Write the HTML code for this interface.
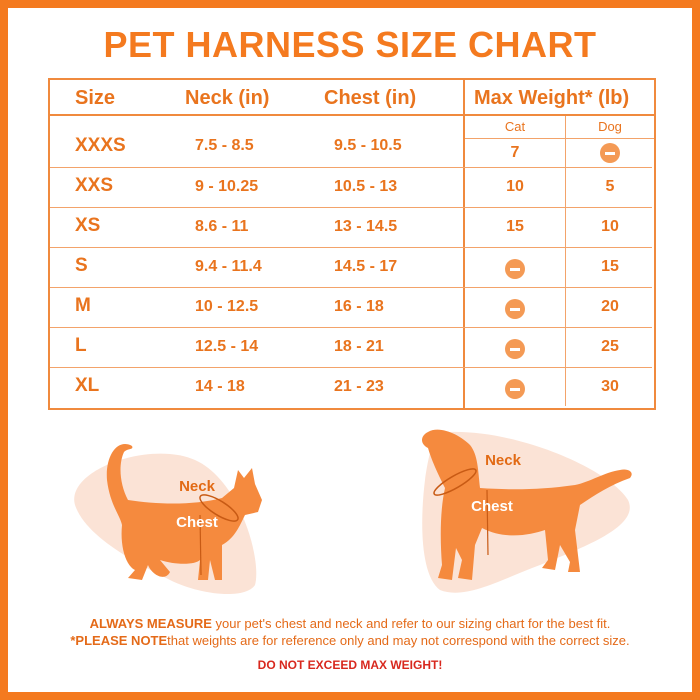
<!DOCTYPE html>
<html><head><style>
body{margin:0;width:700px;height:700px;overflow:hidden;background:#fff;font-family:"Liberation Sans",sans-serif}
#f{position:absolute;left:0;top:0;width:684px;height:684px;border:8px solid #f47a1f;}
.t{position:absolute;color:#e9741e;font-weight:bold;white-space:nowrap}
.h{font-size:20px}
.s{font-size:19px;font-weight:900}
.n{font-size:16px}
.c{text-align:center;width:60px}
.l{position:absolute;background:#f3a36a}
.m{position:absolute;width:20px;height:20px;border-radius:50%;background:#f49a55}
.m:after{content:"";position:absolute;left:5px;top:8.5px;width:10px;height:3px;background:#fff}
</style></head><body>
<div id="f"></div>
<div class="t" style="left:0;width:700px;text-align:center;top:24px;font-size:36px;font-weight:900;color:#f47a1f;letter-spacing:0.5px">PET HARNESS SIZE CHART</div>
<div style="position:absolute;left:48px;top:78px;width:604px;height:328px;border:2px solid #f08a3e"></div>
<div class="l" style="left:48px;top:114px;width:606px;height:2px;background:#f08a3e"></div>
<div class="l" style="left:463px;top:78px;width:2px;height:330px;background:#f08a3e"></div>
<div class="l" style="left:565px;top:116px;width:1px;height:290px"></div>
<div class="l" style="left:465px;top:138px;width:189px;height:1px"></div>
<div class="l" style="left:50px;top:167px;width:602px;height:1px"></div>
<div class="l" style="left:50px;top:207px;width:602px;height:1px"></div>
<div class="l" style="left:50px;top:247px;width:602px;height:1px"></div>
<div class="l" style="left:50px;top:287px;width:602px;height:1px"></div>
<div class="l" style="left:50px;top:327px;width:602px;height:1px"></div>
<div class="l" style="left:50px;top:367px;width:602px;height:1px"></div>
<div class="t h" style="left:75px;top:87px">Size</div>
<div class="t h" style="left:185px;top:87px">Neck (in)</div>
<div class="t h" style="left:324px;top:87px">Chest (in)</div>
<div class="t h" style="left:474px;top:87px">Max Weight* (lb)</div>
<div class="t" style="left:485px;top:119px;width:60px;text-align:center;font-size:13px;font-weight:normal">Cat</div>
<div class="t" style="left:580px;top:119px;width:60px;text-align:center;font-size:13px;font-weight:normal">Dog</div>

<div class="t s" style="left:75px;top:135px">XXXS</div><div class="t n" style="left:195px;top:137px">7.5 - 8.5</div><div class="t n" style="left:334px;top:137px">9.5 - 10.5</div><div class="t n c" style="left:485px;top:144px">7</div><div class="m" style="left:600px;top:143px"></div>
<div class="t s" style="left:75px;top:175px">XXS</div><div class="t n" style="left:195px;top:178px">9 - 10.25</div><div class="t n" style="left:334px;top:178px">10.5 - 13</div><div class="t n c" style="left:485px;top:178px">10</div><div class="t n c" style="left:580px;top:178px">5</div>
<div class="t s" style="left:75px;top:215px">XS</div><div class="t n" style="left:195px;top:218px">8.6 - 11</div><div class="t n" style="left:334px;top:218px">13 - 14.5</div><div class="t n c" style="left:485px;top:218px">15</div><div class="t n c" style="left:580px;top:218px">10</div>
<div class="t s" style="left:75px;top:255px">S</div><div class="t n" style="left:195px;top:258px">9.4 - 11.4</div><div class="t n" style="left:334px;top:258px">14.5 - 17</div><div class="m" style="left:505px;top:259px"></div><div class="t n c" style="left:580px;top:258px">15</div>
<div class="t s" style="left:75px;top:295px">M</div><div class="t n" style="left:195px;top:298px">10 - 12.5</div><div class="t n" style="left:334px;top:298px">16 - 18</div><div class="m" style="left:505px;top:299px"></div><div class="t n c" style="left:580px;top:298px">20</div>
<div class="t s" style="left:75px;top:335px">L</div><div class="t n" style="left:195px;top:338px">12.5 - 14</div><div class="t n" style="left:334px;top:338px">18 - 21</div><div class="m" style="left:505px;top:339px"></div><div class="t n c" style="left:580px;top:338px">25</div>
<div class="t s" style="left:75px;top:375px">XL</div><div class="t n" style="left:195px;top:378px">14 - 18</div><div class="t n" style="left:334px;top:378px">21 - 23</div><div class="m" style="left:505px;top:379px"></div><div class="t n c" style="left:580px;top:378px">30</div>

<svg style="position:absolute;left:0;top:0" width="700" height="700">
<path d="M75,505 C65,470 150,440 195,460 C240,480 262,560 255,585 C245,600 200,595 170,580 C130,560 85,535 75,505Z" fill="#fbe3d6"/>
<path d="M450,432 C520,430 610,470 628,500 C640,525 590,545 540,565 C500,580 465,600 440,590 C420,575 420,520 425,480 C430,445 435,433 450,432Z" fill="#fbe3d6"/>
<path d="M132,446 C118,438 105,455 107,480 C110,505 120,515 122,525 C120,545 125,565 135,570 L128,578 L142,580 L148,565 C152,575 165,582 170,572 L160,560 C175,565 195,565 200,560 L198,580 L208,580 L210,560 L215,580 L222,580 L222,545 C235,538 240,525 245,515 L258,512 L262,500 L255,484 L252,468 L244,478 L238,470 L234,488 L222,498 C195,505 160,505 128,500 C120,485 118,465 124,452 C128,448 134,450 132,446Z" fill="#f58a3e"/>
<path d="M428,432 C420,436 420,444 428,448 C432,462 440,478 445,488 C440,510 440,540 442,565 L438,578 L452,580 L456,548 L462,560 L458,578 L472,580 L475,545 L482,528 C505,540 530,535 545,530 L548,560 L542,568 L555,570 L560,545 L570,562 L568,572 L580,572 L575,530 L580,505 C595,495 610,485 630,478 C635,472 628,468 620,470 C605,472 590,482 575,485 C540,490 510,490 480,488 C478,470 478,455 470,445 C460,435 440,425 428,432Z" fill="#f58a3e"/>
<ellipse cx="219" cy="508" rx="22" ry="7" transform="rotate(32 219 508)" fill="none" stroke="#c85a14" stroke-width="1.5"/>
<ellipse cx="455" cy="482" rx="24" ry="6" transform="rotate(-30 455 482)" fill="none" stroke="#c85a14" stroke-width="1.5"/>
<line x1="200" y1="515" x2="201" y2="575" stroke="#c85a14" stroke-width="1.2"/>
<line x1="487" y1="490" x2="488" y2="555" stroke="#c85a14" stroke-width="1.2"/>
<text x="197" y="491" font-family="Liberation Sans" font-weight="bold" font-size="15" fill="#e26a14" text-anchor="middle">Neck</text>
<text x="197" y="527" font-family="Liberation Sans" font-weight="bold" font-size="15" fill="#fff" text-anchor="middle">Chest</text>
<text x="503" y="465" font-family="Liberation Sans" font-weight="bold" font-size="15" fill="#e26a14" text-anchor="middle">Neck</text>
<text x="492" y="511" font-family="Liberation Sans" font-weight="bold" font-size="15" fill="#fff" text-anchor="middle">Chest</text>
</svg>
<div class="t" style="left:0;width:700px;text-align:center;top:616px;font-size:13px;font-weight:normal;color:#e46a18"><b>ALWAYS MEASURE</b> your pet's chest and neck and refer to our sizing chart for the best fit.</div>
<div class="t" style="left:0;width:700px;text-align:center;top:633px;font-size:13px;font-weight:normal;color:#e46a18"><b>*PLEASE NOTE</b>that weights are for reference only and may not correspond with the correct size.</div>
<div class="t" style="left:0;width:700px;text-align:center;top:658px;font-size:12px;color:#d8281e">DO NOT EXCEED MAX WEIGHT!</div>
</body></html>
